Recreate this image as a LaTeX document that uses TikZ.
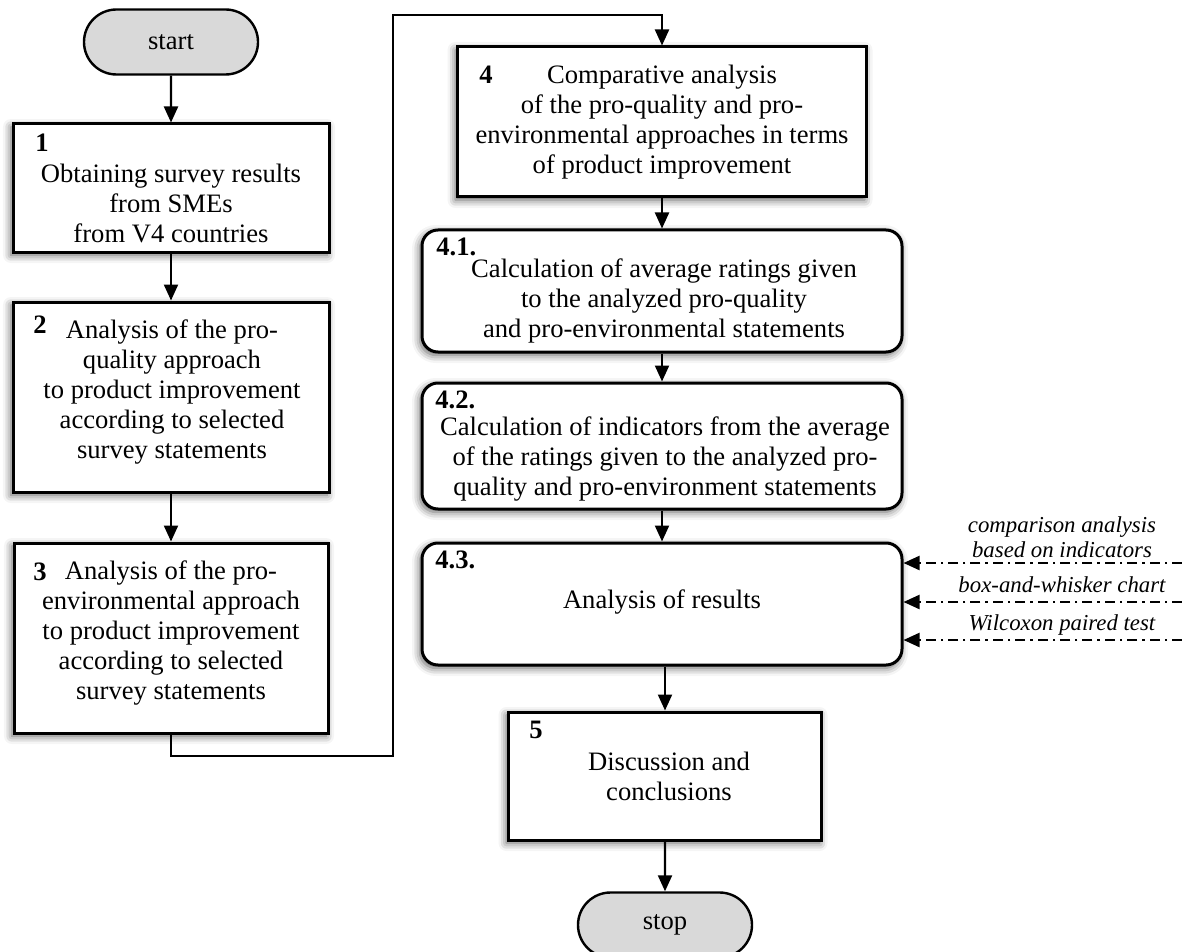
\documentclass[tikz,border=0pt]{standalone}
\usepackage{fontspec}
\setmainfont{Liberation Serif}
\usetikzlibrary{positioning}
\usetikzlibrary{shapes.misc}
\usetikzlibrary{arrows.meta}
\usetikzlibrary{shadows.blur}

\tikzset{
  boxshadow/.style={blur shadow={shadow xshift=-1pt, shadow yshift=-1.5pt,
                    shadow blur radius=4pt, shadow opacity=65}},
  stepbox/.style={draw, line width=1.5pt, fill=white, boxshadow, inner sep=0pt},
  roundbox/.style={stepbox, rounded corners=8pt},
  terminal/.style={draw, line width=1.2pt, fill=black!15, rounded rectangle,
                   minimum width=87pt, minimum height=32.5pt, inner sep=0pt,
                   font=\fontsize{13.3}{15}\selectfont},
  steptext/.style={align=center, inner sep=0pt, font=\fontsize{13.3}{15}\selectfont},
  stepnum/.style={anchor=west, inner sep=0pt, font=\fontsize{13.3}{15}\selectfont\bfseries},
  flow/.style={-{Triangle[length=8pt,width=7pt]}, line width=1.1pt},
  toolarrow/.style={flow, dash pattern=on 5pt off 2.5pt on 1.2pt off 2.5pt},
  toollabel/.style={align=center, inner sep=0pt, font=\fontsize{11.4}{12.5}\selectfont\itshape},
}

\begin{document}
\begin{tikzpicture}[x=0.5pt, y=-0.5pt]
\useasboundingbox (0,0) rectangle (1182,952);

% start and stop
\node[terminal] (start) at (171,42) {start};
\node[terminal] (stop) at (665,925) {stop};

% left column
\node[stepbox, minimum width=158pt, minimum height=64pt] (s1) at (171,188) {};
\node[stepbox, minimum width=158pt, minimum height=95pt] (s2) at (171,397) {};
\node[stepbox, minimum width=157pt, minimum height=95pt] (s3) at (171,638) {};

\node[steptext] (t1) at (171,203) {Obtaining survey results\\from SMEs\\from V4 countries};
\node[steptext] (t2) at (172,392) {Analysis of the pro-\\quality approach\\to product improvement\\according to selected\\survey statements};
\node[steptext] (t3) at (171,633) {Analysis of the pro-\\environmental approach\\to product improvement\\according to selected\\survey statements};

\node[stepnum] (n1) at (35,143) {1};
\node[stepnum] (n2) at (33,325) {2};
\node[stepnum] (n3) at (33,572) {3};

% right column
\node[stepbox, minimum width=204.5pt, minimum height=75pt] (s4) at (662,122) {};
\node[roundbox, minimum width=240pt, minimum height=61pt] (s41) at (662,291) {};
\node[roundbox, minimum width=240pt, minimum height=63pt] (s42) at (662,446) {};
\node[roundbox, minimum width=240pt, minimum height=61pt] (s43) at (662,604) {};
\node[stepbox, minimum width=156.5pt, minimum height=64pt] (s5) at (665,776) {};

\node[steptext] (t4) at (662,122) {Comparative analysis\\of the pro-quality and pro-\\environmental approaches in terms\\of product improvement};
\node[steptext] (t41) at (664,301) {Calculation of average ratings given\\to the analyzed pro-quality\\and pro-environmental statements};
\node[steptext] (t42) at (665,459) {Calculation of indicators from the average\\of the ratings given to the analyzed pro-\\quality and pro-environment statements};
\node[steptext] (t43) at (662,602) {Analysis of results};
\node[steptext] (t5) at (669,776) {Discussion and\\conclusions};

\node[stepnum] (n4) at (479,75) {4};
\node[stepnum] (n41) at (436,247) {4.1.};
\node[stepnum] (n42) at (435,400) {4.2.};
\node[stepnum] (n43) at (435,560) {4.3.};
\node[stepnum] (n5) at (529,730) {5};

% methods feeding 4.3
\node[toollabel] (l1) at (1062,537) {comparison analysis\\based on indicators};
\node[toollabel] (l2) at (1062,585) {box-and-whisker chart};
\node[toollabel] (l3) at (1062,625) {Wilcoxon paired test};

\coordinate (in1) at (1182,563);
\coordinate (in2) at (1182,602);
\coordinate (in3) at (1182,640);

% loop from 3 over to 4
\coordinate (loopA) at (393,756);
\coordinate (loopB) at (393,15);

\draw[flow] (start) -- (s1);
\draw[flow] (s1) -- (s2);
\draw[flow] (s2) -- (s3);
\draw[flow] (s3.south) |- (loopA) -- (loopB) -| (s4.north);
\draw[flow] (s4) -- (s41);
\draw[flow] (s41) -- (s42);
\draw[flow] (s42) -- (s43);
\draw[flow] (s43.south -| s5) -- (s5.north);
\draw[flow] (s5) -- (stop);

\draw[toolarrow] (in1) -- (in1 -| s43.east);
\draw[toolarrow] (in2) -- (in2 -| s43.east);
\draw[toolarrow] (in3) -- (in3 -| s43.east);
\end{tikzpicture}
\end{document}
